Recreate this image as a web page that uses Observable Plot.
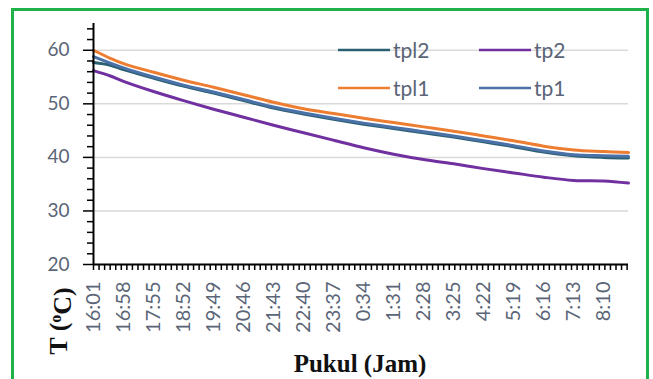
<!DOCTYPE html>
<html><head><meta charset="utf-8">
<script src="https://cdn.jsdelivr.net/npm/d3@7"></script>
<script src="https://cdn.jsdelivr.net/npm/@observablehq/plot@0.6"></script>
<style>
html,body{margin:0;padding:0;background:#fff;}
body{width:653px;height:379px;overflow:hidden;position:relative;}
#frame{position:absolute;left:11px;top:8px;width:632px;height:420px;border:3px solid #1fb24a;}
#chart{position:absolute;left:0;top:0;}
.leg{position:absolute;font-family:Lato,sans-serif;font-size:21px;color:#5a6577;display:flex;align-items:center;height:24px;line-height:24px;}
.leg svg{margin-right:3px;}
</style></head>
<body>
<div id="frame"></div>
<div id="chart"></div>
<script>
// minutes after 16:01
const times = [0, 32, 57, 114, 171, 228, 285, 342, 399, 456, 513, 570, 627, 684, 741, 798, 855, 912, 969, 1016];
const tpl2 = [57.7, 57.2, 56.4, 54.8, 53.3, 52.0, 50.6, 49.2, 48.1, 47.1, 46.2, 45.4, 44.6, 43.8, 42.9, 42.0, 41.0, 40.3, 40.0, 39.9];
const tp2  = [56.2, 55.2, 54.2, 52.3, 50.6, 49.0, 47.5, 46.0, 44.6, 43.2, 41.8, 40.6, 39.6, 38.8, 37.9, 37.1, 36.3, 35.7, 35.6, 35.2];
const tpl1 = [60.0, 58.5, 57.5, 55.9, 54.4, 53.1, 51.7, 50.3, 49.1, 48.2, 47.3, 46.5, 45.7, 44.9, 44.0, 43.1, 42.1, 41.4, 41.1, 40.9];
const tp1  = [58.8, 57.6, 56.7, 55.0, 53.5, 52.2, 50.8, 49.4, 48.3, 47.3, 46.4, 45.6, 44.8, 44.0, 43.1, 42.2, 41.2, 40.5, 40.3, 40.2];
const seriesNames = ["tpl2", "tp2", "tpl1", "tp1"];
const seriesColors = ["#2b5f72", "#7030a0", "#ed7d31", "#4a72a8"];
const tickTimes = [0, 57, 114, 171, 228, 285, 342, 399, 456, 513, 570, 627, 684, 741, 798, 855, 912, 969];
const tickLabels = ["16:01","16:58","17:55","18:52","19:49","20:46","21:43","22:40","23:37","0:34","1:31","2:28","3:25","4:22","5:19","6:16","7:13","8:10"];
const yTicks = [20, 30, 40, 50, 60];
const yTitle = "T (", yTitleSup = "o", yTitleEnd = "C)";
const xTitle = "Pukul (Jam)";

const valuesBySeries = {tpl2, tp2, tpl1, tp1};
const rows = [];
seriesNames.forEach(s => valuesBySeries[s].forEach((v, i) => rows.push({series: s, t: times[i], v})));
const minorY = d3.range(22, 65, 2).filter(d => d % 10 !== 0);
const minorX = d3.range(0, 1016, 10.556);
const labelColor = "#5a6577";

const plot = Plot.plot({
  width: 653, height: 379,
  marginLeft: 93, marginRight: 25, marginTop: 23, marginBottom: 115,
  x: {domain: [0, 1016]},
  y: {domain: [20, 65]},
  color: {domain: seriesNames, range: seriesColors},
  style: {fontFamily: "Lato, sans-serif", background: "transparent", overflow: "visible"},
  marks: [
    Plot.ruleY(yTicks.filter(d => d > 20), {stroke: "#d9d9d9", strokeWidth: 1.5}),
    Plot.line(rows, {x: "t", y: "v", z: "series", stroke: "series", strokeWidth: 3, curve: "catmull-rom"}),
    Plot.axisY({ticks: minorY, tickSize: 6, stroke: "black", strokeWidth: 1.5, tickFormat: () => "", label: null}),
    Plot.axisY({ticks: yTicks, tickSize: 10, stroke: "black", strokeWidth: 1.5, tickPadding: 14, fontSize: 19, fill: labelColor, label: null}),
    Plot.axisX({ticks: minorX, tickSize: 6, stroke: "black", strokeWidth: 1.5, tickFormat: () => "", label: null}),
    Plot.axisX({ticks: tickTimes, tickSize: 0, tickPadding: 17, tickRotate: -90, fontSize: 20, fill: labelColor,
      tickFormat: d => tickLabels[tickTimes.indexOf(d)], label: null}),
    Plot.ruleY([20], {stroke: "black", strokeWidth: 2}),
    Plot.ruleX([0], {y1: 20, y2: 65, stroke: "black", strokeWidth: 2})
  ]
});
document.getElementById("chart").appendChild(plot);

const svg = d3.select(plot);
const yt = svg.append("text")
  .attr("transform", "translate(67,321) rotate(-90)")
  .attr("text-anchor", "middle")
  .style("font-family", "'Liberation Serif', serif")
  .style("font-weight", "bold").style("font-size", "26px").attr("fill", "#111");
yt.append("tspan").text(yTitle);
yt.append("tspan").text(yTitleSup).attr("dy", "-0.4em").style("font-size", "16px");
yt.append("tspan").text(yTitleEnd).attr("dy", "0.4em");
svg.append("text")
  .attr("x", 360).attr("y", 372)
  .attr("text-anchor", "middle")
  .style("font-family", "'Liberation Serif', serif")
  .style("font-weight", "bold").style("font-size", "25px").attr("fill", "#111")
  .text(xTitle);

// legend
const legPos = [[338, 38], [479, 38], [338, 76], [479, 76]];
seriesNames.forEach((s, i) => {
  const d = document.createElement("div");
  d.className = "leg";
  d.style.left = legPos[i][0] + "px";
  d.style.top = legPos[i][1] + "px";
  d.innerHTML = `<svg width="52" height="4"><line x1="0" x2="52" y1="2" y2="2" stroke="${seriesColors[i]}" stroke-width="2.5"/></svg><span>${s}</span>`;
  document.body.appendChild(d);
});
</script>
</body></html>
